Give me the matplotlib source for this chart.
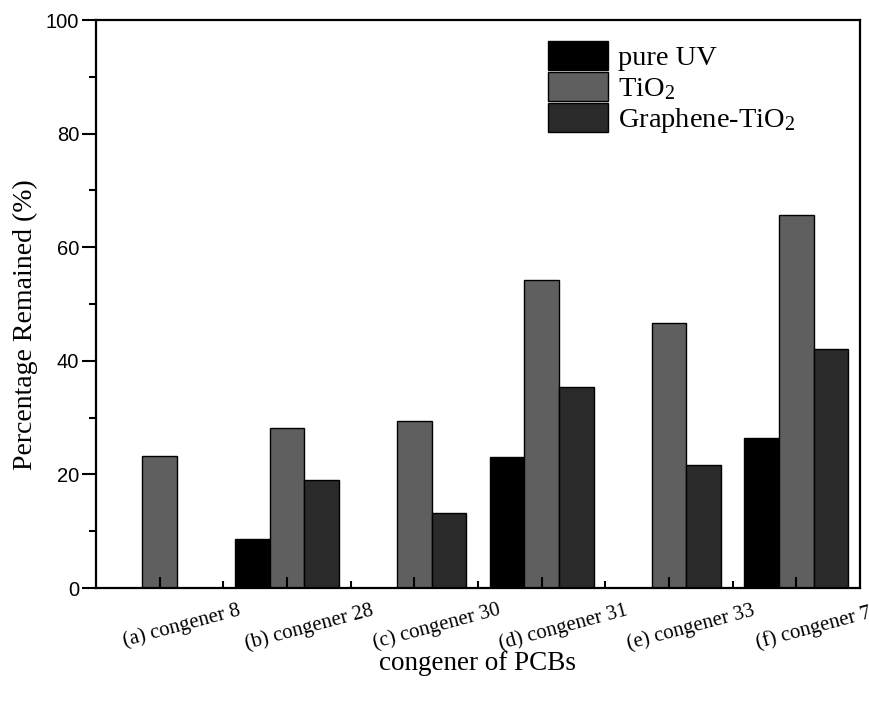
import matplotlib
matplotlib.use("Agg")
import matplotlib.pyplot as plt
import matplotlib.transforms as mtransforms
import numpy as np

categories = ["(a) congener 8", "(b) congener 28", "(c) congener 30",
              "(d) congener 31", "(e) congener 33", "(f) congener 74"]
pure_uv = [0.0, 8.7, 0.0, 23.0, 0.0, 26.4]
tio2 = [23.2, 28.1, 29.4, 54.2, 46.7, 65.6]
graphene_tio2 = [0.0, 19.0, 13.2, 35.3, 21.6, 42.1]
series_labels = ["pure UV", "TiO$_2$", "Graphene-TiO$_2$"]
series_colors = ["#000000", "#5f5f5f", "#2a2a2a"]

serif = ["Liberation Serif", "DejaVu Serif"]
plt.rcParams["mathtext.fontset"] = "custom"
plt.rcParams["mathtext.rm"] = "Liberation Serif"
plt.rcParams["mathtext.it"] = "Liberation Serif:italic"
plt.rcParams["mathtext.bf"] = "Liberation Serif:bold"
plt.rcParams["mathtext.default"] = "rm"

fig = plt.figure(figsize=(8.7, 7.03), dpi=100)
ax = fig.add_axes([96/870, 1-588/703, (860-96)/870, (588-20)/703])

x = np.arange(1, len(categories) + 1)
w = 0.272
for i, (vals, lab, col) in enumerate(zip([pure_uv, tio2, graphene_tio2], series_labels, series_colors)):
    ax.bar(x + (i - 1) * w, vals, width=w, color=col, edgecolor="black",
           linewidth=1.0, label=lab)

ax.set_xlim(0.5, 6.5)
ax.set_ylim(0, 100)
ax.set_yticks(np.arange(0, 101, 20))
ax.set_yticks(np.arange(10, 100, 20), minor=True)
ax.set_xticks(x)
ax.set_xticks(x[:-1] + 0.5, minor=True)

for s in ax.spines.values():
    s.set_linewidth(1.6)

ax.tick_params(axis="y", which="major", direction="out", length=10, width=1.5, pad=2)
ax.tick_params(axis="y", which="minor", direction="out", length=5, width=1.5)
ax.tick_params(axis="x", which="major", direction="in", length=8, width=1.5, pad=9)
ax.tick_params(axis="x", which="minor", direction="in", length=5, width=1.5)
for lbl in ax.get_yticklabels():
    lbl.set_fontfamily(["Liberation Sans", "DejaVu Sans"])
    lbl.set_fontsize(14.5)

offset = mtransforms.ScaledTranslation(22/100, 0, fig.dpi_scale_trans)
ax.set_xticklabels(categories, rotation=15, ha="center", va="top",
                   fontfamily=serif, fontsize=15)
for lbl in ax.get_xticklabels():
    lbl.set_transform(lbl.get_transform() + offset)

ax.set_xlabel("congener of PCBs", fontfamily=serif, fontsize=19.5)
ax.xaxis.label.set_va("center")
ax.xaxis.set_label_coords(0.5, (588-664)/568)
ax.set_ylabel("Percentage Remained (%)", fontfamily=serif, fontsize=20)
ax.yaxis.label.set_va("center")
ax.yaxis.set_label_coords((25-96)/764, (588-325)/568)

leg = ax.legend(loc="upper left", bbox_to_anchor=((548-96)/764, (588-41)/568), frameon=False,
                prop={"family": serif, "size": 20.5}, handlelength=2.1,
                handleheight=1.2, labelspacing=0.03, handletextpad=0.35,
                borderaxespad=0, borderpad=0)

fig.savefig("out.png", dpi=100)
